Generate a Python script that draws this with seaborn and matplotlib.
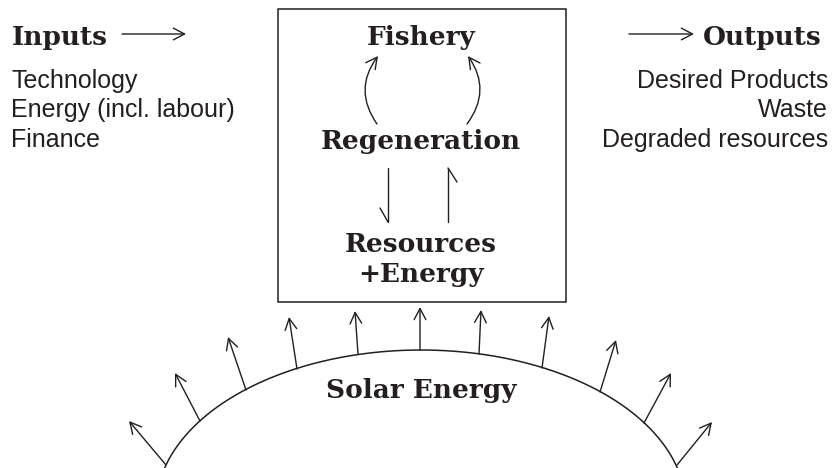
import numpy as np
import matplotlib
matplotlib.use("Agg")
import matplotlib.pyplot as plt
from matplotlib.patches import FancyArrowPatch, Rectangle
import pandas as pd
import seaborn as sns

sns.set_theme(style="white")
INK = "#231f20"
SERIF = ["DejaVu Serif"]
SANS = ["Liberation Sans", "DejaVu Sans"]
HEAD = 19

# text content
inputs_items = ["Technology", "Energy (incl. labour)", "Finance"]
outputs_items = ["Desired Products", "Waste", "Degraded resources"]
box_labels = ["Fishery", "Regeneration", "Resources", "+Energy"]
box_label_y = [45, 149, 252, 282]
list_baselines = [88, 117, 147]

# sun rays: base on arc -> tip
ray_base_x = [166, 200, 246, 297, 358, 420, 479, 542, 600, 644, 677]
ray_base_y = [465, 421, 390, 369, 354, 350, 354, 368, 392, 423, 465]
ray_tip_x = [129, 175, 228, 289, 355, 420, 481, 549, 616, 671, 712]
ray_tip_y = [421, 373, 337, 317, 311, 307, 310, 316, 340, 373, 422]

# solar arc (top of an ellipse)
arc_cx, arc_cy, arc_a, arc_b = 421, 508, 265, 158

fig = plt.figure(figsize=(8.38, 4.68), dpi=100)
ax = fig.add_axes([0, 0, 1, 1])

def arrow(p0, p1, rad=0.0, lw=1.0):
    ax.add_patch(FancyArrowPatch(p0, p1, arrowstyle="->,head_length=0.8,head_width=0.42",
                                 connectionstyle=f"arc3,rad={rad}", mutation_scale=10,
                                 shrinkA=0, shrinkB=0, color=INK, lw=lw))

# solar arc
t = np.linspace(0, np.pi, 400)
arc_df = pd.DataFrame({"x": arc_cx + arc_a * np.cos(t), "y": arc_cy - arc_b * np.sin(t)})
sns.lineplot(data=arc_df, x="x", y="y", sort=False, ax=ax, color=INK, lw=1.1)
ax.set_xlim(0, 838)
ax.set_ylim(468, 0)
ax.axis("off")

# box
ax.add_patch(Rectangle((278, 9), 288, 293, fill=False, ec=INK, lw=1.1))

for lab, y in zip(box_labels, box_label_y):
    ax.text(421, y, lab, ha="center", va="baseline", fontsize=HEAD, fontweight="bold",
            family=SERIF, color=INK)

# curved arrows Regeneration -> Fishery
arrow((377, 124), (378, 56), rad=-0.36)
arrow((467, 124), (468, 56), rad=0.36)

# half arrows between Regeneration and Resources
ax.plot([388, 388], [168, 222], color=INK, lw=1.0)
ax.plot([380, 388], [208, 222], color=INK, lw=1.0)
ax.plot([448, 448], [222, 168], color=INK, lw=1.0)
ax.plot([448, 457], [168, 182], color=INK, lw=1.0)

# inputs / outputs
ax.text(12, 45, "Inputs", ha="left", va="baseline", fontsize=HEAD, fontweight="bold",
        family=SERIF, color=INK)
arrow((122, 34), (186, 34))
for lab, y in zip(inputs_items, list_baselines):
    ax.text(11, y, lab, ha="left", va="baseline", fontsize=18, family=SANS, color=INK)

ax.text(822, 45, "Outputs", ha="right", va="baseline", fontsize=HEAD, fontweight="bold",
        family=SERIF, color=INK)
arrow((629, 34), (694, 34))
for lab, y in zip(outputs_items, list_baselines):
    ax.text(828, y, lab, ha="right", va="baseline", fontsize=18, family=SANS, color=INK)

for bx, by, tx, ty in zip(ray_base_x, ray_base_y, ray_tip_x, ray_tip_y):
    arrow((bx, by), (tx, ty))

ax.text(421, 398, "Solar Energy", ha="center", va="baseline", fontsize=HEAD, fontweight="bold",
        family=SERIF, color=INK)

fig.savefig("out.png", dpi=100, facecolor="white")
